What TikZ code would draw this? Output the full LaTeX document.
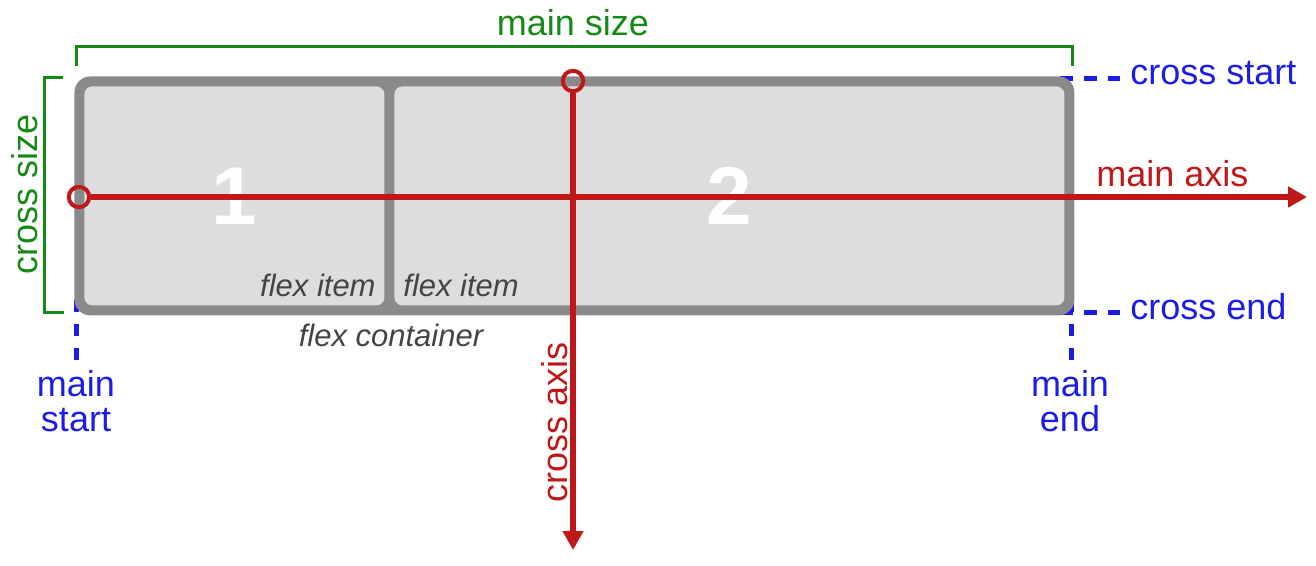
\documentclass[tikz,border=0pt]{standalone}
\usepackage{fontspec}
\setmainfont{Liberation Sans}
\usepackage{xcolor}
\usetikzlibrary{positioning, arrows.meta}

\definecolor{axisred}{RGB}{190,24,24}
\definecolor{sizegreen}{RGB}{22,138,22}
\definecolor{edgeblue}{RGB}{28,28,232}
\definecolor{boxgray}{RGB}{138,138,138}
\definecolor{itemgray}{RGB}{221,221,221}
\definecolor{labelgray}{RGB}{68,68,68}

\begin{document}
\begin{tikzpicture}[x=0.5pt, y=-0.5pt,
    lbl/.style={inner sep=0pt, font=\fontsize{18}{17.5}\selectfont},
    itemlbl/.style={inner sep=0pt, text=labelgray, font=\fontsize{15.5}{18}\selectfont\itshape},
    num/.style={inner sep=0pt, text=white!96!itemgray, font=\fontsize{41}{44}\selectfont\bfseries},
    ring/.style={circle, draw=axisred, line width=2pt, minimum size=10.2pt, inner sep=0pt},
    axisline/.style={axisred, line width=2.6pt, -{Triangle[length=9.5pt, width=10pt]}},
    sizeline/.style={sizegreen, line width=1.5pt},
    edgeline/.style={edgeblue, line width=2.5pt, dash pattern=on 6.25pt off 5.75pt}]
    \useasboundingbox (0,0) rectangle (1316,566);

    \coordinate (cs1) at (1060,79);
    \coordinate (cs2) at (1120,79);
    \coordinate (ce1) at (1060,313);
    \coordinate (ce2) at (1120,313);
    \coordinate (ms1) at (76,300);
    \coordinate (ms2) at (76,366);
    \coordinate (me1) at (1071,300);
    \coordinate (me2) at (1071,366);
    \draw[edgeline] (cs1) -- (cs2);
    \draw[edgeline] (ce1) -- (ce2);
    \draw[edgeline] (ms1) -- (ms2);
    \draw[edgeline] (me1) -- (me2);

    \node[fill=boxgray, rounded corners=8pt, minimum width=500pt, minimum height=119.5pt, inner sep=0pt, anchor=north west] (container) at (74,76) {};
    \node[fill=itemgray, rounded corners=4pt, minimum width=150pt, minimum height=109.5pt, inner sep=0pt, anchor=north west] (item1) at (84,86) {};
    \node[fill=itemgray, rounded corners=4pt, minimum width=335pt, minimum height=109.5pt, inner sep=0pt, anchor=north west] (item2) at (394,86) {};
    \node[num] (n1) at (item1.center) {1};
    \node[num] (n2) at (item2.center) {2};

    \node[itemlbl, anchor=base east] (flex1) at (376,297) {flex item};
    \node[itemlbl, anchor=base west] (flex2) at (403,297) {flex item};
    \node[itemlbl, anchor=base] (flexc) at (391,347) {flex container};

    \node[ring] (mainring) at (79,197) {};
    \node[ring] (crossring) at (573,81) {};
    \coordinate (mainend) at (1307,197);
    \coordinate (crossend) at (573,550);
    \draw[axisline] (mainring) -- (mainend);
    \draw[axisline] (crossring) -- (crossend);
    \node[lbl, text=axisred, anchor=base west] (mainaxis) at (1096,187) {main axis};
    \node[lbl, text=axisred, anchor=base, rotate=90] (crossaxis) at (567,422) {cross axis};

    \coordinate (msz1) at (76,66);
    \coordinate (msz2) at (76,47);
    \coordinate (msz3) at (1072,47);
    \coordinate (msz4) at (1072,66);
    \draw[sizeline] (msz1) -- (msz2) -- (msz3) -- (msz4);
    \node[lbl, text=sizegreen, anchor=base] (mainsize) at (573,36) {main size};

    \coordinate (csz1) at (63,78);
    \coordinate (csz2) at (44,78);
    \coordinate (csz3) at (44,313);
    \coordinate (csz4) at (64,313);
    \draw[sizeline] (csz1) -- (csz2) -- (csz3) -- (csz4);
    \node[lbl, text=sizegreen, anchor=base, rotate=90] (crosssize) at (37,194) {cross size};

    \node[lbl, text=edgeblue, anchor=base west] (crossstart) at (1130,85) {cross start};
    \node[lbl, text=edgeblue, anchor=base west] (crossendlbl) at (1130,320) {cross end};
    \node[lbl, text=edgeblue, align=center, anchor=north] (mainstart) at (76,370) {main\\start};
    \node[lbl, text=edgeblue, align=center, anchor=north] (mainendlbl) at (1070,370) {main\\end};
\end{tikzpicture}
\end{document}
